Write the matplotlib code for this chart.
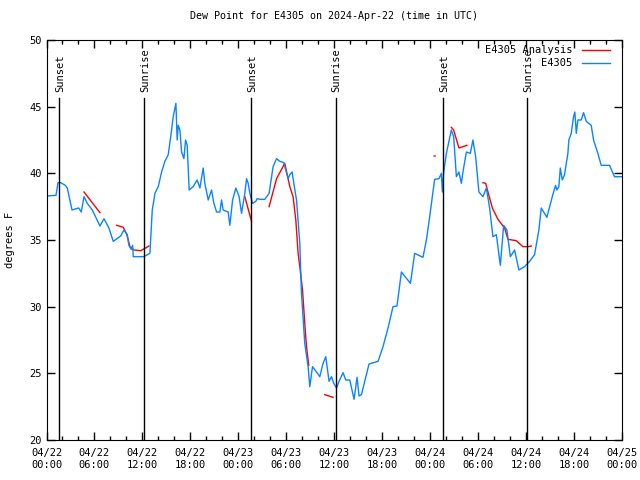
import numpy as np
import matplotlib
matplotlib.use("Agg")
import matplotlib.pyplot as plt
from matplotlib.ticker import MultipleLocator

# hours since 2024-04-22 00:00 UTC, dew point in F
obs_hours = [0.03, 1.19, 1.44, 1.78, 2.35, 2.6, 3.19, 3.44, 4.03, 4.35, 4.69, 5.1, 5.73,
             6.69, 7.19, 7.81, 8.35, 9.28, 9.69, 10.1, 10.31, 10.6, 10.78, 10.85, 12.19,
             12.94, 13.23, 13.44, 13.56, 13.98, 14.4, 14.81, 15.23, 15.65, 15.85, 16.19,
             16.35, 16.48, 16.69, 16.9, 17.19, 17.4, 17.6, 17.85, 18.35, 18.85, 19.19,
             19.6, 19.81, 20.23, 20.65, 20.94, 21.28, 21.69, 21.9, 22.1, 22.73, 22.94,
             23.28, 23.69, 24.1, 24.4, 24.81, 25.03, 25.23, 25.44, 25.78, 26.19, 26.35,
             26.78, 27.31, 27.85, 28.35, 28.78, 29.19, 29.69, 30.23, 30.44, 30.73, 30.94,
             31.28, 31.69, 31.9, 32.31, 32.73, 32.94, 33.28, 33.78, 34.19, 34.6, 34.94,
             35.35, 35.65, 35.94, 36.28, 36.6, 37.1, 37.44, 37.94, 38.48, 38.85, 39.1,
             39.4, 40.35, 41.48, 42.1, 42.73, 43.35, 43.85, 44.4, 45.53, 46.06, 47.1,
             47.53, 47.94, 48.56, 49.1, 49.4, 49.53, 49.69, 50.03, 50.65, 50.94, 51.28,
             51.6, 51.9, 52.1, 52.53, 53.03, 53.35, 53.69, 54.1, 54.6, 55.03, 55.44,
             55.85, 56.28, 56.78, 57.19, 57.6, 58.03, 58.56, 59.1, 59.81, 60.44, 61.06,
             61.6, 61.9, 62.6, 63.28, 63.69, 63.85, 64.1, 64.28, 64.53, 64.81, 65.23,
             65.35, 65.65, 65.94, 66.1, 66.28, 66.48, 66.9, 67.19, 67.53, 68.15, 68.44,
             68.98, 69.4, 70.44, 71.06, 71.69, 72.0]
obs_dewpt = [38.3, 38.35, 39.3, 39.3, 39.1, 38.9, 37.25, 37.3, 37.4, 37.1, 38.25, 37.75, 37.25,
             36.05, 36.6, 35.9, 34.9, 35.3, 35.75, 35.4, 34.6, 34.3, 34.6, 33.75, 33.75,
             34.0, 37.25, 38.0, 38.5, 39.0, 40.1, 40.9, 41.4, 43.25, 44.25, 45.25,
             42.5, 43.6, 43.25, 41.6, 41.1, 42.5, 42.1, 38.75, 39.0, 39.5, 38.9,
             40.4, 39.25, 38.0, 38.75, 37.75, 37.1, 37.1, 38.0, 37.25, 37.1, 36.1,
             38.0, 38.9, 38.25, 37.0, 38.5, 39.6, 39.25, 38.5, 37.75, 37.9, 38.1,
             38.05, 38.05, 38.5, 40.5, 41.1, 40.9, 40.8, 39.6, 39.9, 40.1, 39.25,
             38.0, 34.75, 31.0, 27.25, 25.5, 24.0, 25.5, 25.1, 24.75, 25.75, 26.25,
             24.4, 24.75, 24.25, 23.9, 24.4, 25.05, 24.5, 24.5, 23.05, 24.7, 23.3,
             23.4, 25.7, 25.9, 27.0, 28.4, 30.0, 30.05, 32.6, 31.75, 34.0, 33.7,
             35.0, 36.75, 39.55, 39.6, 40.0, 38.6, 40.1, 41.5, 43.25, 42.75, 39.75,
             40.1, 39.25, 40.1, 41.6, 41.5, 42.5, 41.25, 38.6, 38.25, 38.9, 37.4,
             35.25, 35.4, 33.1, 36.1, 35.75, 33.75, 34.25, 32.75, 33.0, 33.4, 33.9,
             35.75, 37.4, 36.7, 38.25, 39.1, 38.75, 39.0, 40.4, 39.5, 39.9, 41.5,
             42.5, 43.0, 44.25, 44.6, 43.0, 44.0, 44.0, 44.55, 43.9, 43.6, 42.5,
             41.5, 40.6, 40.6, 39.75, 39.75, 39.75]

# analysis segments, nan = gap
ana_hours = [4.69, 6.69, np.nan,
             8.78, 9.6, 10.03, 10.44, 10.94, 11.78, 12.4, 12.81, np.nan,
             24.81, 25.65, np.nan,
             27.85, 28.78, 29.81, 30.44, 30.85, 31.19, 31.48, 31.69, 32.03, 32.31, 32.53, 32.81, np.nan,
             34.81, 35.85, np.nan,
             48.5, 48.62, np.nan,
             50.65, 50.94, 51.6, 52.1, 52.6, np.nan,
             54.6, 54.94, 55.78, 56.48, 57.31, 57.73, 58.78, 59.6, 60.23, 60.65]
ana_dewpt = [38.6, 37.05, np.nan,
             36.1, 35.95, 35.45, 34.5, 34.25, 34.2, 34.4, 34.55, np.nan,
             38.25, 36.4, np.nan,
             37.5, 39.6, 40.75, 39.0, 38.25, 36.5, 34.0, 33.0, 31.25, 28.75, 27.0, 25.6, np.nan,
             23.4, 23.2, np.nan,
             41.3, 41.3, np.nan,
             43.45, 43.25, 41.9, 42.0, 42.1, np.nan,
             39.3, 39.25, 37.4, 36.55, 35.9, 35.05, 34.95, 34.5, 34.5, 34.55]

sunset_hours = [1.6, 25.62, 49.6]
sunrise_hours = [12.22, 36.16, 60.1]

tick_labels = ["04/22\n00:00", "04/22\n06:00", "04/22\n12:00", "04/22\n18:00",
               "04/23\n00:00", "04/23\n06:00", "04/23\n12:00", "04/23\n18:00",
               "04/24\n00:00", "04/24\n06:00", "04/24\n12:00", "04/24\n18:00",
               "04/25\n00:00"]

plt.rcParams['font.family'] = 'DejaVu Sans Mono'
plt.rcParams['font.size'] = 7

fig = plt.figure(figsize=(6.4, 4.8), dpi=100)
ax = fig.add_axes([46.5 / 640, 40 / 480, 575.5 / 640, 400 / 480])

ax.plot(ana_hours, ana_dewpt, color='#ff0000', lw=1, label='E4305 Analysis')
ax.plot(obs_hours, obs_dewpt, color='#0a84ff', lw=1, label='E4305')

# sun lines with rotated labels
for h in sunset_hours:
    ax.plot([h, h], [20, 45.65], color='black', lw=1)
    ax.text(h + 0.15, 46.1, 'Sunset', rotation=90, ha='center', va='bottom', fontsize=7.5)
for h in sunrise_hours:
    ax.plot([h, h], [20, 45.65], color='black', lw=1)
    ax.text(h + 0.15, 46.1, 'Sunrise', rotation=90, ha='center', va='bottom', fontsize=7.5)

ax.set_xlim(0, 72)
ax.set_ylim(20, 50)
ax.set_xticks(np.arange(0, 73, 6))
ax.set_xticklabels(tick_labels)
ax.xaxis.set_minor_locator(MultipleLocator(2))
ax.set_yticks(np.arange(20, 51, 5))
ax.tick_params(which='both', direction='in', top=True, right=True, labelsize=7.5)
ax.tick_params(which='major', length=6, width=1)
ax.tick_params(which='minor', length=3, width=1)
ax.tick_params(axis='x', pad=6)

ax.set_ylabel('degrees F', fontsize=7.5, labelpad=10)
ax.set_title('Dew Point for E4305 on 2024-Apr-22 (time in UTC)', fontsize=7.2, pad=15)

ax.legend(loc='upper right', bbox_to_anchor=(1 - 8 / 575.5, 1 - 1 / 400), frameon=False,
          markerfirst=False, fontsize=7.5, handlelength=2.7, borderaxespad=0.1,
          labelspacing=0.3, handletextpad=0.9, borderpad=0.3)

fig.savefig('out.png', dpi=100)
